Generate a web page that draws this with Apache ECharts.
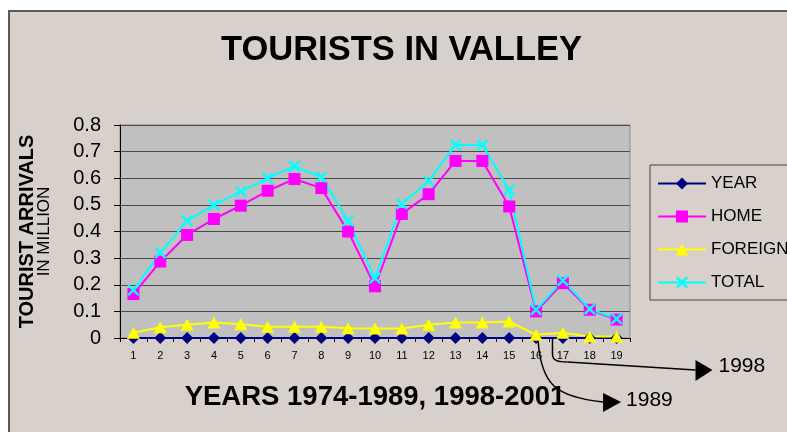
<!DOCTYPE html>
<html>
<head>
<meta charset="utf-8">
<script src="https://cdn.jsdelivr.net/npm/echarts@6/dist/echarts.min.js"></script>
<style>
    html, body { margin: 0; padding: 0; background: #ffffff; overflow: hidden; }
    #frame {
        position: absolute; left: 8px; top: 10px; width: 800px; height: 440px;
        background: #d8d0ca; border-left: 2px solid #5a5a5a; border-top: 2px solid #5a5a5a;
    }
    #chart { position: absolute; left: 0; top: 0; width: 787px; height: 432px; }
</style>
</head>
<body>
<div id="frame"></div>
<div id="chart"></div>
<script>
// x categories (index numbers 1..19 for 1974-1989, 1998-2001)
const categories = ['1', '2', '3', '4', '5', '6', '7', '8', '9', '10',
    '11', '12', '13', '14', '15', '16', '17', '18', '19'];

// tourist arrivals in million
const yearValues = [0, 0, 0, 0, 0, 0, 0, 0, 0, 0, 0, 0, 0, 0, 0, 0, 0, 0, 0];
const homeValues = [0.165, 0.287, 0.387, 0.447, 0.497, 0.553, 0.597, 0.563, 0.40, 0.194,
    0.466, 0.54, 0.665, 0.665, 0.494, 0.10, 0.206, 0.106, 0.069];
const foreignValues = [0.02, 0.04, 0.05, 0.058, 0.052, 0.042, 0.042, 0.042, 0.037, 0.036,
    0.036, 0.05, 0.058, 0.058, 0.062, 0.012, 0.02, 0.006, 0.006];
const totalValues = [0.18, 0.32, 0.44, 0.50, 0.55, 0.60, 0.645, 0.605, 0.44, 0.225,
    0.504, 0.59, 0.725, 0.725, 0.556, 0.106, 0.216, 0.109, 0.0725];

const FONT = '"Liberation Sans", Arial, sans-serif';
const xSymbol = 'path://M0,1.4L1.4,0L5,3.6L8.6,0L10,1.4L6.4,5L10,8.6L8.6,10L5,6.4L1.4,10L0,8.6L3.6,5Z';

const chart = echarts.init(document.getElementById('chart'));

function lineSeries(name, data, color, symbol, size) {
    return {
        name: name,
        type: 'line',
        data: data,
        symbol: symbol,
        symbolSize: size,
        clip: false,
        lineStyle: { color: color, width: 2 },
        itemStyle: { color: color },
        emphasis: { disabled: true }
    };
}

const option = {
    animation: false,
    backgroundColor: 'transparent',
    textStyle: { fontFamily: FONT },
    title: {
        text: 'TOURISTS IN VALLEY',
        left: 221,
        top: 33,
        padding: 0,
        textStyle: { fontSize: 34.5, fontWeight: 'bold', color: '#000', fontFamily: FONT }
    },
    legend: {
        orient: 'vertical',
        left: 650,
        top: 165,
        padding: [10, 20, 9, 7],
        itemGap: 16,
        itemWidth: 48,
        itemHeight: 15,
        borderColor: '#444',
        borderWidth: 1,
        textStyle: { fontSize: 17, color: '#000', fontFamily: FONT },
        data: ['YEAR', 'HOME', 'FOREIGN', 'TOTAL']
    },
    grid: {
        left: 120,
        right: 157,
        top: 125,
        bottom: 94,
        show: true,
        backgroundColor: '#c0c0c0',
        borderColor: '#8a8a8a',
        borderWidth: 1
    },
    xAxis: {
        type: 'category',
        data: categories,
        name: 'YEARS 1974-1989, 1998-2001',
        nameLocation: 'middle',
        nameGap: 45,
        nameTextStyle: { fontSize: 27.5, fontWeight: 'bold', color: '#000', fontFamily: FONT },
        axisLine: { lineStyle: { color: '#000', width: 1 } },
        axisTick: { show: true, length: 4, lineStyle: { color: '#000' } },
        axisLabel: { fontSize: 11, color: '#000', margin: 12 }
    },
    yAxis: {
        type: 'value',
        min: 0,
        max: 0.8,
        interval: 0.1,
        name: '{a|TOURIST ARRIVALS}\n{b|IN MILLION}',
        nameLocation: 'middle',
        nameRotate: 90,
        nameGap: 68,
        nameTextStyle: {
            rich: {
                a: { fontSize: 20, fontWeight: 'bold', color: '#000', lineHeight: 17, fontFamily: FONT },
                b: { fontSize: 17, color: '#000', lineHeight: 16, fontFamily: FONT }
            }
        },
        axisLine: { show: true, lineStyle: { color: '#000', width: 1 } },
        axisTick: { show: true, length: 6, lineStyle: { color: '#000' } },
        axisLabel: { fontSize: 20, color: '#000', margin: 19 },
        splitLine: { lineStyle: { color: '#4a4a4a', width: 1 } }
    },
    series: [
        lineSeries('YEAR', yearValues, '#000080', 'diamond', 12),
        lineSeries('HOME', homeValues, '#ff00ff', 'rect', 12),
        lineSeries('FOREIGN', foreignValues, '#ffff00', 'triangle', [13, 12]),
        lineSeries('TOTAL', totalValues, '#00ffff', xSymbol, 12)
    ]
};

chart.setOption(option);

// callout arrows for the break between 1989 and 1998
const p16 = chart.convertToPixel({ xAxisIndex: 0, yAxisIndex: 0 }, [15, 0]);
const p17 = chart.convertToPixel({ xAxisIndex: 0, yAxisIndex: 0 }, [16, 0]);
const ax = p16[0] + 2, ay = p16[1] + 2;
const bx = (p16[0] + p17[0]) / 2 + 3, by = p16[1];
const arrowStyle = { stroke: '#000', lineWidth: 1.5, fill: null };

chart.setOption({
    graphic: [
        {
            type: 'bezierCurve', silent: true,
            shape: { x1: ax, y1: ay, cpx1: ax + 3, cpy1: ay + 45, cpx2: ax + 18, cpy2: ay + 57, x2: ax + 65, y2: ay + 62 },
            style: arrowStyle
        },
        {
            type: 'polygon', silent: true,
            shape: { points: [[ax + 65, ay + 53], [ax + 65, ay + 72], [ax + 83, ay + 62]] },
            style: { fill: '#000' }
        },
        {
            type: 'text', silent: true, left: ax + 88, top: ay + 50,
            style: { text: '1989', fontSize: 21, fill: '#000', fontFamily: FONT }
        },
        {
            type: 'line', silent: true,
            shape: { x1: bx, y1: by, x2: bx, y2: by + 16 },
            style: arrowStyle
        },
        {
            type: 'bezierCurve', silent: true,
            shape: { x1: bx, y1: by + 16, cpx1: bx, cpy1: by + 23, cpx2: bx + 6, cpy2: by + 24, x2: bx + 15, y2: by + 24 },
            style: arrowStyle
        },
        {
            type: 'line', silent: true,
            shape: { x1: bx + 15, y1: by + 24, x2: bx + 143, y2: by + 32 },
            style: arrowStyle
        },
        {
            type: 'polygon', silent: true,
            shape: { points: [[bx + 143, by + 22], [bx + 143, by + 43], [bx + 160, by + 32]] },
            style: { fill: '#000' }
        },
        {
            type: 'text', silent: true, left: bx + 166, top: by + 18,
            style: { text: '1998', fontSize: 21, fill: '#000', fontFamily: FONT }
        }
    ]
});

window.addEventListener('resize', function () {
    chart.resize();
});
</script>
</body>
</html>
